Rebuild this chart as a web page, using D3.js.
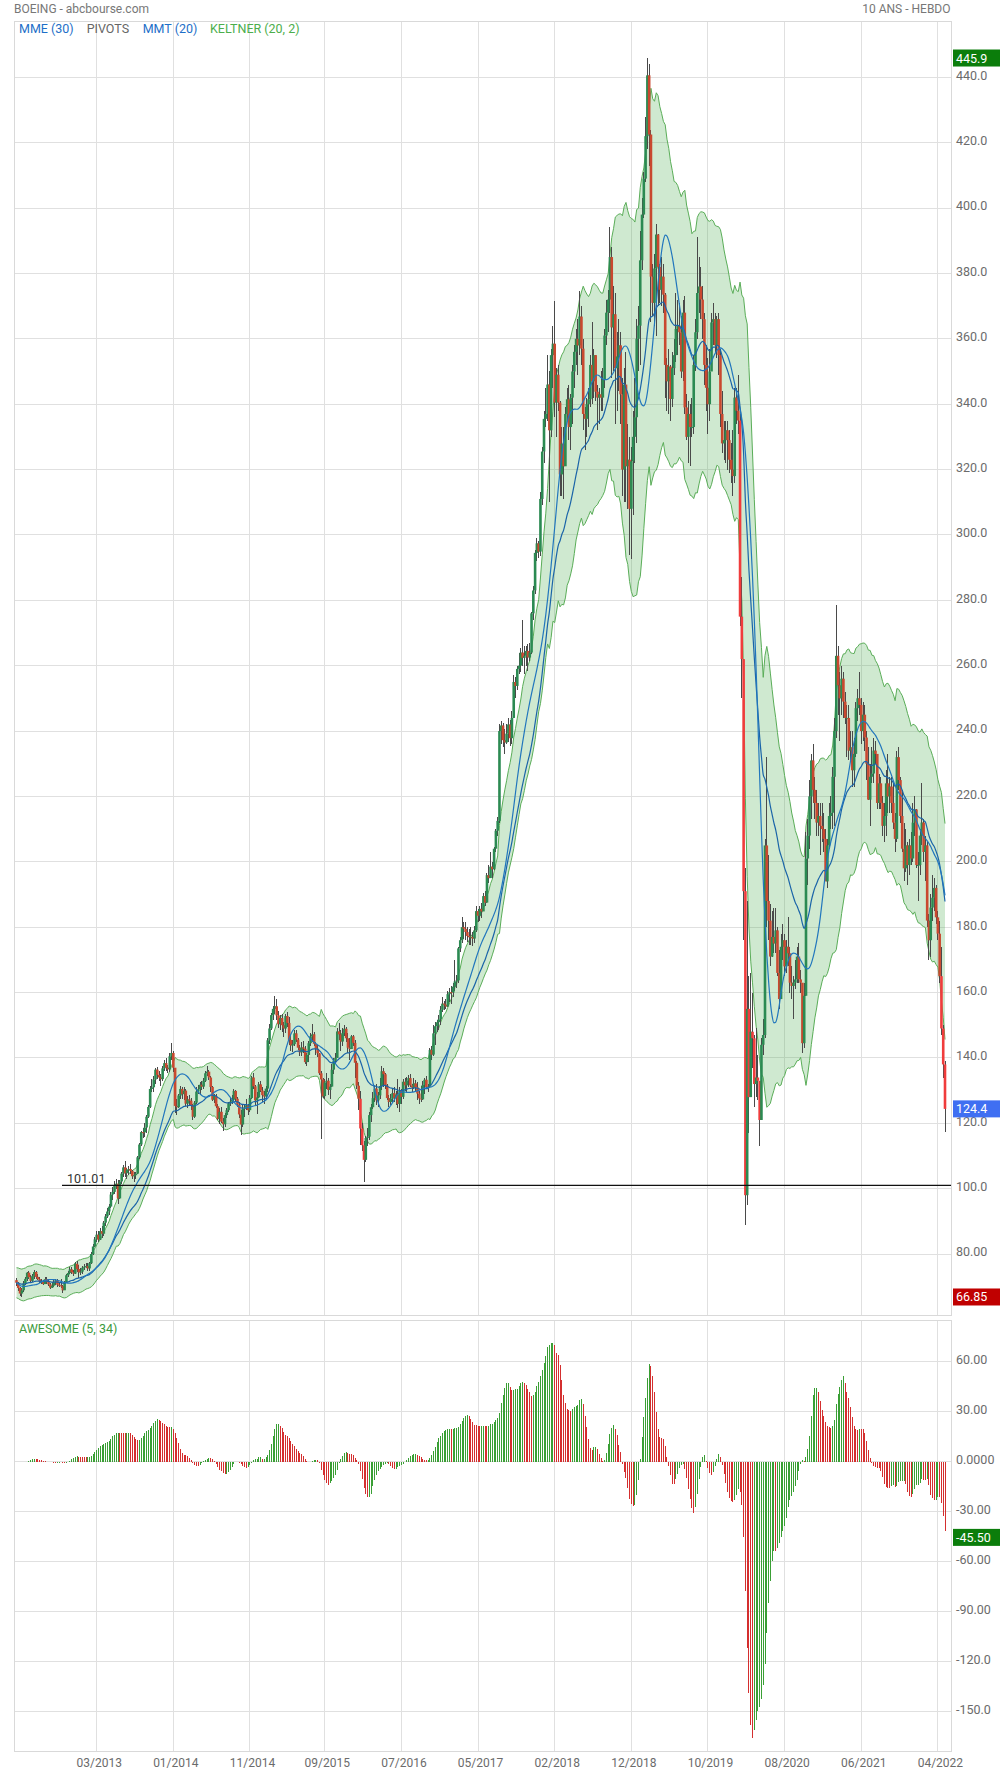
<!DOCTYPE html>
<html><head><meta charset="utf-8">
<script src="https://cdn.jsdelivr.net/npm/d3@7"></script>
<style>body{margin:0;background:#fff;} svg{display:block;font-family:Roboto,"Open Sans",sans-serif;}</style>
</head><body>
<svg id="chart" width="1000" height="1774"></svg>
<script>
// ---------- DATA (weekly, May 2012 -> May 2022) ----------
const firstOpen = 72.0;
const closes = [
// 2012
71.2,69.6,67.9,68.9,71.0,72.4,74.3,72.9,71.8,73.3,74.5,73.0,72.3,71.6,71.7,70.8,72.3,71.4,70.7,69.7,70.3,71.4,71.9,70.6,70.4,70.2,68.9,71.4,73.5,74.2,75.3,74.4,74.0,77.0,
// 2013
75.4,74.4,74.6,75.8,76.1,76.3,75.6,77.2,80.0,82.3,84.5,85.9,84.4,87.0,86.2,89.6,91.5,93.0,94.5,98.2,99.0,101.1,101.5,97.0,102.2,104.6,106.5,104.7,105.8,106.0,105.4,103.8,104.1,104.6,109.6,113.5,117.3,117.2,118.7,122.0,125.0,130.5,131.0,133.4,136.4,134.8,134.0,133.5,136.8,138.4,137.0,136.5,
// 2014
140.5,141.5,137.0,125.3,124.9,128.5,130.5,128.9,130.0,126.0,127.3,126.9,125.5,122.0,126.3,129.7,130.4,131.8,131.2,133.0,135.3,135.8,134.0,131.1,127.2,128.3,125.2,121.3,123.5,120.5,119.7,122.5,124.0,126.1,126.6,127.2,129.9,127.5,125.7,122.7,119.6,124.4,124.9,125.5,124.0,127.7,134.0,131.3,127.0,127.9,131.9,130.0,
// 2015
128.6,128.2,130.6,145.4,149.0,153.1,155.0,155.8,153.0,150.3,152.2,150.0,149.0,152.8,150.7,145.5,143.8,144.2,147.5,145.6,143.1,141.7,143.2,142.8,138.7,140.9,144.5,146.6,147.2,144.3,142.8,141.4,135.3,133.4,128.3,132.5,133.0,130.2,131.2,136.4,139.1,140.0,148.1,147.2,145.0,147.6,148.9,146.0,143.1,142.7,146.6,144.6,
// 2016
138.5,131.5,127.5,118.4,113.3,108.8,115.5,115.9,122.5,124.9,127.7,130.6,127.0,128.5,131.4,135.9,135.0,131.5,127.7,126.5,127.5,129.2,127.8,128.8,125.9,129.9,128.1,132.7,131.6,133.1,133.8,131.6,130.9,132.2,131.0,129.1,127.6,127.3,131.7,133.3,131.0,131.2,142.4,141.0,147.5,149.7,150.9,151.8,154.7,156.6,156.3,155.7,
// 2017
159.5,160.1,160.0,161.8,163.4,163.7,173.5,176.0,180.0,179.5,178.5,177.3,176.9,177.0,176.5,179.0,184.9,183.5,185.6,184.8,189.5,187.5,195.9,195.0,198.5,197.7,204.0,209.5,212.5,240.0,241.7,237.2,236.5,239.2,242.0,237.8,244.0,255.0,253.8,259.0,260.0,264.0,262.4,263.0,264.5,262.5,264.0,276.0,283.0,294.5,297.4,294.9,
// 2018
311.0,325.5,335.5,337.0,346.0,332.0,355.0,358.5,340.5,349.0,340.5,318.5,327.9,321.0,337.0,341.5,333.0,342.0,350.0,356.0,360.0,358.0,366.8,357.0,337.0,335.5,340.0,341.5,352.0,347.0,355.0,343.8,342.0,343.0,342.0,347.5,361.0,368.0,372.0,385.0,363.5,367.5,351.0,354.6,358.0,343.0,320.0,346.0,321.0,323.0,308.0,322.5,
// 2019
330.0,336.0,360.0,364.0,384.0,398.0,409.0,422.0,440.6,422.5,379.0,371.0,381.5,391.9,382.0,375.0,379.0,373.5,352.0,347.0,351.5,341.6,351.0,355.0,363.0,364.0,362.0,350.0,368.0,339.0,330.0,337.0,333.0,333.0,352.0,362.0,374.0,376.0,372.0,366.0,352.0,345.0,340.0,350.0,365.0,366.0,358.0,366.0,355.0,337.0,328.0,329.0,
// 2020
332.0,329.0,323.0,320.0,318.0,342.0,338.0,335.0,275.0,262.0,191.0,98.0,155.0,128.0,148.0,146.0,132.0,134.0,133.0,121.0,144.0,147.0,205.0,188.0,182.0,171.0,177.0,175.0,179.0,166.0,158.0,174.0,176.0,168.0,174.0,172.0,163.0,162.0,163.0,164.0,171.0,164.0,163.0,144.5,159.0,201.0,208.0,220.0,231.0,222.0,218.0,212.0,214.0,
// 2021
211.0,210.0,207.0,194.0,205.0,214.0,215.0,226.0,240.0,263.0,254.0,250.0,256.0,249.0,244.0,244.0,234.0,235.0,228.0,233.0,247.0,250.0,248.0,240.0,245.0,238.0,230.0,219.0,226.0,227.0,234.0,233.0,218.0,224.0,218.0,211.0,214.0,224.0,220.0,223.0,218.0,212.0,207.0,232.0,225.0,214.0,204.0,198.0,205.0,199.0,205.0,201.0,
// 2022
212.0,216.0,199.0,199.0,208.0,212.0,203.0,205.0,182.0,176.0,186.0,189.0,192.0,183.0,178.0,165.0,149.0,138.0,124.4
];
const highs = [
72.6,71.5,70.0,69.6,71.6,73.0,74.6,74.8,73.5,74.0,75.2,74.9,73.8,72.9,72.4,72.0,73.0,72.9,71.9,71.0,71.3,72.0,72.5,72.3,71.2,72.3,70.4,71.7,74.0,74.8,75.9,76.1,75.0,77.5,
77.8,76.5,75.8,76.2,77.0,77.3,77.2,77.6,80.6,83.0,85.2,87.0,86.9,88.0,88.5,90.2,92.1,94.0,95.3,99.0,100.5,102.4,103.0,102.5,102.6,105.2,107.3,108.5,106.4,107.0,107.5,105.7,105.0,105.2,110.0,114.0,117.7,118.4,120.0,122.5,125.5,131.5,133.5,134.5,137.0,137.3,136.0,135.2,137.4,139.5,140.0,137.7,
141.5,144.6,142.0,137.0,127.5,129.0,131.5,131.0,131.2,130.5,128.3,128.7,127.8,126.0,126.8,131.0,131.6,132.5,133.0,133.8,136.0,137.5,136.2,134.6,131.5,129.0,128.9,126.0,124.6,125.0,121.5,123.0,124.8,126.5,128.0,128.5,130.5,130.3,128.0,126.5,124.0,125.5,126.0,127.5,126.0,128.5,134.5,135.5,131.8,129.5,132.5,133.0,
131.0,130.0,131.5,146.0,150.5,153.8,156.0,158.8,158.0,154.2,153.0,153.5,151.0,153.5,154.0,152.5,147.0,145.5,148.5,148.4,146.0,143.8,145.0,145.2,143.5,141.5,145.3,147.5,150.5,148.0,145.0,144.0,141.5,136.0,134.0,133.5,135.5,133.9,132.0,138.0,140.0,141.5,149.0,150.6,148.5,149.0,150.0,149.5,147.5,146.0,147.0,147.0,
145.5,139.0,132.5,130.0,120.0,114.5,116.0,118.5,123.5,126.0,129.5,131.5,132.0,129.5,134.0,137.5,137.0,135.5,132.0,128.5,129.0,130.5,131.0,130.0,133.5,131.0,130.5,133.5,133.8,134.2,134.8,135.0,132.0,134.0,133.2,132.5,130.0,131.5,133.0,133.8,134.5,132.0,143.0,143.5,150.0,151.0,151.5,153.0,156.0,158.5,157.5,158.0,
160.5,161.5,162.0,163.0,170.0,165.5,174.0,177.0,183.0,181.5,181.5,180.0,179.5,180.0,178.5,180.5,186.5,185.5,186.5,187.5,190.5,191.0,196.5,199.0,203.0,200.0,204.5,210.0,213.8,242.0,243.0,242.5,240.5,242.0,244.0,243.5,246.0,257.0,256.5,260.0,264.0,265.5,274.0,266.0,266.0,266.5,267.0,276.5,284.5,295.5,299.0,298.0,
313,327,338,345,354.9,350,357,364,371.6,351,352,341,333,333,339,345,346,343,352,358,363,366,374.5,370,360,339,342,345,355,365,357,352,346,345,350,351,363,372,375,394.3,388,376,374,362,366,362,348,351,356,334,330,327,
338,348,366,370,393,403,411,428,445.9,444,424,383,386,395,392,383,385,383,374,354,357,352,356,360,374,372,371,367,372,373,343,341,340,342,355,366,391,385,382,376,368,358,354,357,368,371,368,367,368,357,344,335,
335,335,332,328,332,345,345,349,337,287,256,198,188,165,166,160,147,149,141,133,146,152,207,232,202,187,185,186,186,180,173,178,181,178,176,183,174,168,165,170,174,175,167,163,163,209,213,225,233,236,226,222,218,
218,218,215,210,207,218,220,229,244,278.6,266,258,260,258,252,248,248,240,240,238,249,253,258,250,249,248,240,235,230,235,238,237,233,227,226,220,218,228,233,226,226,224,215,234,235,226,222,212,210,206,207,209,
218,220,216,203,210,224,213,208,206,184,190,196,195,193,185,182,174,150,139
];
const lows = [
70.3,68.8,67.3,66.85,68.5,70.5,71.8,72.3,71.0,71.5,72.5,72.4,71.9,71.0,70.8,70.4,70.7,70.9,70.2,69.3,69.5,69.8,70.6,69.8,69.8,69.6,68.0,68.9,71.2,73.1,73.9,74.0,73.2,73.8,
74.6,72.7,73.6,73.8,75.0,75.6,74.9,74.9,77.0,79.7,82.0,83.7,83.7,84.5,85.0,85.6,88.6,90.9,92.0,94.0,96.6,98.4,99.8,95.4,96.7,101.4,103.7,103.7,103.0,104.2,104.5,103.0,102.0,102.8,104.8,109.0,113.0,115.4,115.7,117.0,121.5,124.6,129.7,129.5,132.0,133.6,132.8,131.5,132.8,136.0,136.0,135.5,
135.8,139.5,135.6,123.1,122.4,124.8,127.5,127.5,127.0,125.4,124.8,125.2,124.2,121.0,121.6,126.0,128.8,128.7,130.2,130.6,132.5,134.5,133.3,129.7,126.8,126.2,124.8,121.0,119.8,120.0,117.5,118.9,121.6,123.5,125.4,126.0,126.5,126.6,125.0,121.5,116.3,119.0,121.9,124.0,122.6,123.5,127.4,130.5,125.4,122.8,127.8,129.6,
126.5,126.0,127.0,129.5,144.2,148.5,151.5,153.5,151.5,149.0,148.5,148.0,146.5,147.5,149.5,144.0,142.0,141.7,143.5,144.8,142.4,140.5,140.6,141.5,138.0,137.5,138.6,143.5,145.0,143.5,141.0,140.3,134.7,115.1,127.8,127.5,130.6,128.5,127.3,131.0,135.0,138.0,140.0,145.6,142.0,143.5,146.7,145.0,141.5,139.5,143.0,143.7,
133.7,130.5,124.0,113.5,111.6,102.1,108.0,113.0,115.0,120.5,124.5,126.5,125.5,125.0,127.5,130.3,131.0,130.5,127.0,125.0,125.5,126.5,126.5,125.5,124.8,123.5,125.8,127.5,130.0,129.5,131.0,131.0,129.5,130.5,129.5,127.0,126.0,126.5,127.0,129.0,130.5,129.5,131.5,139.3,140.5,144.0,148.0,148.5,150.0,154.0,154.5,155.0,
155.5,157.0,156.5,158.5,160.5,161.5,163.0,172.5,175.0,176.5,176.0,175.5,174.5,174.5,174.2,175.0,178.5,181.5,182.0,182.8,185.0,186.5,188.0,193.5,195.0,195.0,197.5,203.0,208.0,212.0,236.0,235.0,233.0,236.0,236.5,235.5,236.0,244.5,250.0,252.5,257.5,258.0,260.0,257.5,260.0,258.5,261.5,263.5,274.0,282.0,292.0,293.0,
293.5,309,322,333,335,310,330,345,336,330,338,312,312,311,322,335,329,326,334,345,352,349,355,352,332,326,330,333,339,340,342,341,332,334,338,338,345,358,362,368,348,350,334,338,344,334,312,310,310,308,294,292.5,
306,322,328,350,352,381,397,408,418,413,365,367,364,361,370,371,370,368,342,338,337,335,339,349,353,355,358,348,347,337,329,322,321,330,331,350,360,368,366,360,346,338,331,335,350,358,356,354,349,333,325,323,
322,320,319,316,312,316,334,331,272,250,176,89,95,117,128,137,125,128,127,113,124,141,146,180,176,168,171,172,172,165,155,158,170,165,166,168,160,158,152,161,163,163,160,141.6,143,165,193,204,213,218,213,208,208,
202,206,203,194,192,204,210,210,211,238,245,237,245,244,242,232,231,231,223,223,232,243,245,236,237,234,225,219,211,224,224,230,216,216,216,208,206,208,215,215,215,210,203,206,222,212,203,194,197,193,196,199,
200,208,198,188,196,205,200,194,180,170,171,182,185,181,176,163,147,134,117.3
];
const priceTicks = [80,100,120,140,160,180,200,220,240,260,280,300,320,340,360,380,400,420,440];
const priceTickLabels = ["80.00","100.0","120.0","140.0","160.0","180.0","200.0","220.0","240.0","260.0","280.0","300.0","320.0","340.0","360.0","380.0","400.0","420.0","440.0"];
const aoTicks = [60,30,0,-30,-60,-90,-120,-150];
const aoTickLabels = ["60.00","30.00","0.0000","-30.00","-60.00","-90.00","-120.0","-150.0"];
const dateTickIndex = [45,88,131,173,216,259,302,345,388,431,474,517];
const dateTickLabels = ["03/2013","01/2014","11/2014","09/2015","07/2016","05/2017","02/2018","12/2018","10/2019","08/2020","06/2021","04/2022"];
const pivotLevel = 101.01;
const lastAO = -45.50;

// ---------- INDICATORS ----------
const N = closes.length;
const opens = closes.map((c,i)=> i===0 ? firstOpen : closes[i-1]);
function ema(arr,n){const k=2/(n+1);const out=[];arr.forEach((v,i)=>out.push(i===0?v:out[i-1]+k*(v-out[i-1])));return out;}
function sma(arr,n){const out=[];let s=0;arr.forEach((v,i)=>{s+=v;if(i>=n)s-=arr[i-n];out.push(s/Math.min(i+1,n));});return out;}
const tr = closes.map((c,i)=> i===0 ? highs[0]-lows[0] : Math.max(highs[i]-lows[i],Math.abs(highs[i]-closes[i-1]),Math.abs(lows[i]-closes[i-1])));
const atr = ema(tr,20);
const kMid = ema(closes,20);
const kUp = kMid.map((m,i)=>m+2*atr[i]);
const kLo = kMid.map((m,i)=>m-2*atr[i]);
const mme = ema(closes,30);
const mmt = sma(sma(closes,10),11);
const median = highs.map((h,i)=>(h+lows[i])/2);
const s5 = sma(median,5), s34 = sma(median,34);
const ao = s5.map((v,i)=>v-s34[i]);

// ---------- LAYOUT ----------
const L=14.5, R=951, T=21.5, B=1315, T2=1320.5, B2=1751;
const svg = d3.select("#chart");
const x = d3.scaleLinear().domain([0,N-1]).range([16.5,945]);
const y = d3.scaleLinear().domain([61.34,457.07]).range([B,T]);
const yA = d3.scaleLinear().domain([-173.82,84.78]).range([B2,T2]);

svg.append("rect").attr("width",1000).attr("height",1774).attr("fill","#fff");

// titles
svg.append("text").attr("x",14).attr("y",12.7).attr("font-size",12).attr("fill","#777").text("BOEING - abcbourse.com");
svg.append("text").attr("x",950.5).attr("y",12.7).attr("font-size",12).attr("fill","#777").attr("text-anchor","end").text("10 ANS - HEBDO");

// grids
function grid(top,bottom,yScale,ticks){
  const g = svg.append("g").attr("shape-rendering","crispEdges");
  g.selectAll("line.h").data(ticks).join("line").attr("x1",L).attr("x2",R)
    .attr("y1",d=>yScale(d)).attr("y2",d=>yScale(d)).attr("stroke","#e0e0e0");
  g.selectAll("line.v").data(dateTickIndex).join("line").attr("y1",top).attr("y2",bottom)
    .attr("x1",d=>x(d)).attr("x2",d=>x(d)).attr("stroke","#e0e0e0");
  g.append("rect").attr("x",L).attr("y",top).attr("width",R-L).attr("height",bottom-top)
    .attr("fill","none").attr("stroke","#d9d9d9");
}
grid(T,B,y,priceTicks);
grid(T2,B2,yA,aoTicks);

// main plot clip
svg.append("clipPath").attr("id","clipMain").append("rect").attr("x",L).attr("y",T).attr("width",R-L).attr("height",B-T);
const gm = svg.append("g").attr("clip-path","url(#clipMain)");
const idx = d3.range(N);

// Keltner band
gm.append("path").datum(idx).attr("fill","rgba(76,175,80,0.27)")
  .attr("d",d3.area().x(i=>x(i)).y0(i=>y(kLo[i])).y1(i=>y(kUp[i])));
[kUp,kLo].forEach(arr=>{
  gm.append("path").datum(idx).attr("fill","none").attr("stroke","#5aad58").attr("stroke-width",1)
    .attr("d",d3.line().x(i=>x(i)).y(i=>y(arr[i])));
});

// candles
gm.append("g").attr("shape-rendering","crispEdges").selectAll("line").data(idx).join("line")
  .attr("x1",i=>x(i)).attr("x2",i=>x(i))
  .attr("y1",i=>y(Math.max(highs[i],opens[i],closes[i]))).attr("y2",i=>y(Math.min(lows[i],opens[i],closes[i])))
  .attr("stroke","#4a4a4a").attr("stroke-width",1);
gm.append("g").selectAll("rect").data(idx).join("rect")
  .attr("x",i=>x(i)-1.3).attr("width",2.6)
  .attr("y",i=>y(Math.max(opens[i],closes[i])))
  .attr("height",i=>Math.max(1,Math.abs(y(opens[i])-y(closes[i]))))
  .attr("fill",i=> closes[i]>=opens[i] ? "#2b8a52" : (closes[i]<kLo[i] ? "#f03c3c" : "#c9482f"));

// moving averages
[[mme,"#1a64a8"],[mmt,"#2176bd"]].forEach(([arr,col])=>{
  gm.append("path").datum(idx).attr("fill","none").attr("stroke",col).attr("stroke-width",1.2)
    .attr("d",d3.line().x(i=>x(i)).y(i=>y(arr[i])).curve(d3.curveMonotoneX));
});

// pivot line
svg.append("line").attr("x1",62).attr("x2",R).attr("y1",y(pivotLevel)).attr("y2",y(pivotLevel))
  .attr("stroke","#111").attr("stroke-width",1.3);
svg.append("text").attr("x",67).attr("y",y(pivotLevel)-2.5).attr("font-size",12.5).attr("fill","#333").text(pivotLevel.toFixed(2));

// legend
const leg = [["MME (30)","#1e6fc8",19],["PIVOTS","#666",86.7],["MMT (20)","#1e6fc8",142.7],["KELTNER (20, 2)","#4cae4c",210]];
leg.forEach(([t,c,lx])=>svg.append("text").attr("x",lx).attr("y",33).attr("font-size",12.5).attr("fill",c).text(t));
svg.append("text").attr("x",19).attr("y",1333.3).attr("font-size",12.5).attr("fill","#3c9a3c").text("AWESOME (5, 34)");

// right axes
const axP = svg.append("g").attr("transform",`translate(${R},0)`)
  .call(d3.axisRight(y).tickValues(priceTicks).tickFormat((d,i)=>priceTickLabels[i]).tickSize(0).tickPadding(5));
const axA = svg.append("g").attr("transform",`translate(${R},0)`)
  .call(d3.axisRight(yA).tickValues(aoTicks).tickFormat((d,i)=>aoTickLabels[i]).tickSize(0).tickPadding(5));
[axP,axA].forEach(a=>{a.select(".domain").remove();a.selectAll("text").attr("font-size",12.5).attr("fill","#6b6b6b")
  .attr("font-family","Roboto,sans-serif").attr("dy","0.15em");});

// bottom axis
const axX = svg.append("g").attr("transform",`translate(2,${B2})`)
  .call(d3.axisBottom(x).tickValues(dateTickIndex).tickFormat((d,i)=>dateTickLabels[i]).tickSize(0).tickPadding(7.5));
axX.select(".domain").remove();
axX.selectAll("text").attr("font-size",12).attr("fill","#6b6b6b").attr("font-family","Roboto,sans-serif");

// AO histogram
svg.append("clipPath").attr("id","clipAO").append("rect").attr("x",L).attr("y",T2).attr("width",R-L).attr("height",B2-T2);
svg.append("g").attr("clip-path","url(#clipAO)").attr("shape-rendering","crispEdges").selectAll("line").data(idx.slice(1)).join("line")
  .attr("x1",i=>x(i)).attr("x2",i=>x(i)).attr("y1",yA(0)).attr("y2",i=>yA(ao[i]))
  .attr("stroke",i=> ao[i]>=ao[i-1] ? "#3a9f35" : "#d42f2f").attr("stroke-width",1);

// badges
function badge(yy,text,col){
  svg.append("rect").attr("x",953).attr("y",yy-8.5).attr("width",47).attr("height",17).attr("fill",col);
  svg.append("text").attr("x",956).attr("y",yy+4.5).attr("font-size",12.5).attr("fill","#fff").text(text);
}
badge(y(d3.max(highs)), d3.max(highs).toFixed(1), "#0b7d0b");
badge(y(closes[N-1]), closes[N-1].toFixed(1), "#3f6ff2");
badge(y(d3.min(lows)), d3.min(lows).toFixed(2), "#c00000");
badge(yA(lastAO), lastAO.toFixed(2), "#0b7d0b");
</script>
</body></html>
